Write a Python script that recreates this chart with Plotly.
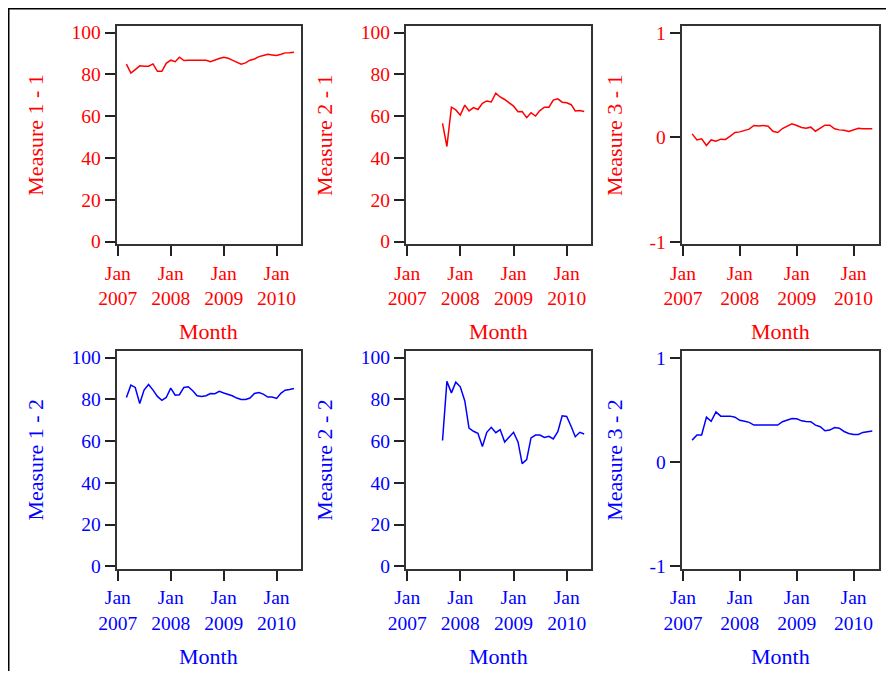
import pandas as pd
import plotly.graph_objects as go

# ---------------- data ----------------
months_full = pd.date_range("2007-03-01", "2010-05-01", freq="MS")   # Mar 2007 - May 2010
months_late = pd.date_range("2007-09-01", "2010-05-01", freq="MS")   # Sep 2007 - May 2010

measure_1_1 = [84.9, 80.6, 82.3, 84.1, 83.9, 83.9, 85.0, 81.5, 81.5, 85.3, 86.8, 86.1, 88.2,
               86.6, 86.8, 86.8, 86.8, 86.8, 86.8, 86.1, 87.0, 87.6, 88.2, 87.7, 86.8, 85.8,
               84.9, 85.5, 86.8, 87.4, 88.5, 89.0, 89.6, 89.3, 89.0, 89.6, 90.3, 90.4, 90.6]
measure_2_1 = [56.6, 45.5, 64.3, 63.0, 60.5, 65.3, 62.5, 64.1, 63.2, 66.2, 67.3, 66.8, 71.0,
               69.2, 68.0, 66.5, 64.8, 62.1, 62.2, 59.3, 61.7, 60.1, 62.7, 64.3, 64.3, 67.7,
               68.3, 66.7, 66.4, 65.5, 62.5, 62.7, 62.2]
measure_3_1 = [0.032, -0.026, -0.016, -0.08, -0.026, -0.038, -0.019, -0.022, 0.01, 0.045,
               0.051, 0.061, 0.077, 0.112, 0.108, 0.112, 0.105, 0.057, 0.045, 0.083, 0.105,
               0.128, 0.112, 0.093, 0.086, 0.096, 0.057, 0.086, 0.115, 0.115, 0.08, 0.07,
               0.067, 0.054, 0.067, 0.086, 0.08, 0.08, 0.08]
measure_1_2 = [80.9, 86.8, 85.7, 78.0, 84.4, 87.1, 84.4, 81.4, 79.5, 80.9, 85.4, 82.0, 82.2,
               85.7, 86.0, 84.1, 81.7, 81.4, 81.7, 82.8, 82.7, 83.8, 83.0, 82.5, 81.7, 80.6,
               79.9, 79.9, 80.6, 82.8, 83.3, 82.5, 81.1, 81.1, 80.4, 83.0, 84.4, 84.7, 85.2]
measure_2_2 = [60.3, 88.6, 83.1, 88.2, 86.0, 79.2, 66.2, 64.7, 63.7, 57.4, 64.2, 66.6, 64.0,
               65.5, 59.5, 61.8, 64.2, 59.5, 49.2, 51.1, 61.5, 62.9, 62.9, 61.7, 62.3, 61.0,
               64.5, 72.1, 71.8, 67.0, 62.1, 64.2, 63.4]
measure_3_2 = [0.21, 0.26, 0.26, 0.43, 0.39, 0.48, 0.44, 0.44, 0.44, 0.43, 0.40, 0.39, 0.38,
               0.354, 0.354, 0.36, 0.36, 0.354, 0.354, 0.386, 0.405, 0.418, 0.415, 0.395,
               0.389, 0.386, 0.354, 0.338, 0.30, 0.306, 0.33, 0.325, 0.293, 0.274, 0.265,
               0.265, 0.284, 0.29, 0.297]

x_tick_vals = ["2007-01-01", "2008-01-01", "2009-01-01", "2010-01-01"]
x_tick_text = ["Jan<br>2007", "Jan<br>2008", "Jan<br>2009", "Jan<br>2010"]
y_tick_vals_big = [0, 20, 40, 60, 80, 100]
y_tick_text_big = ["0", "20", "40", "60", "80", "100"]
y_tick_vals_small = [-1, 0, 1]
y_tick_text_small = ["-1", "0", "1"]
y_titles = [["Measure 1 - 1", "Measure 2 - 1", "Measure 3 - 1"],
            ["Measure 1 - 2", "Measure 2 - 2", "Measure 3 - 2"]]
x_title = "Month"

# ---------------- layout geometry (page pixels) ----------------
OFF = 8                      # default body margin of the html page
W, H = 894 - 2 * OFF, 679 - 2 * OFF
col_px = [(116.7, 300.5), (406.0, 590.7), (681.7, 879.3)]
row_px = [(25.7, 244.3), (350.7, 569.0)]
row_colors = ["#ff0000", "#0000ff"]
FONT = "Liberation Serif, Times New Roman, serif"


def fx(px):
    return (px - OFF) / W


def fy(py):
    return 1 - (py - OFF) / H


series = [
    [(months_full, measure_1_1), (months_late, measure_2_1), (months_full, measure_3_1)],
    [(months_full, measure_1_2), (months_late, measure_2_2), (months_full, measure_3_2)],
]

fig = go.Figure()
layout = {}
annotations = []
k = 0
for r in range(2):
    color = row_colors[r]
    for c in range(3):
        k += 1
        xs, ys = series[r][c]
        xa = "x" if k == 1 else f"x{k}"
        ya = "y" if k == 1 else f"y{k}"
        fig.add_trace(go.Scatter(x=xs, y=ys, mode="lines", xaxis=xa, yaxis=ya,
                                 line=dict(color=color, width=1.5), showlegend=False,
                                 hoverinfo="skip"))
        x0, x1 = col_px[c]
        y0, y1 = row_px[r]
        common = dict(showline=True, mirror=True, linecolor="#333333", linewidth=2,
                      ticks="outside", ticklen=10, tickwidth=2, tickcolor="#222222",
                      showgrid=False, zeroline=False, automargin=False,
                      tickfont=dict(family=FONT, size=19.5, color=color))
        layout["xaxis" if k == 1 else f"xaxis{k}"] = dict(
            domain=[fx(x0), fx(x1)], anchor=ya, type="date",
            range=["2006-12-24", "2010-06-15"],
            tickmode="array", tickvals=x_tick_vals, ticktext=x_tick_text, **common)
        if c < 2:
            yr, tv, tt = [-1.3, 103.3], y_tick_vals_big, y_tick_text_big
        else:
            yr, tv, tt = [-1.025, 1.067], y_tick_vals_small, y_tick_text_small
        layout["yaxis" if k == 1 else f"yaxis{k}"] = dict(
            domain=[fy(y1), fy(y0)], anchor=xa, range=yr,
            tickmode="array", tickvals=tv, ticktext=tt, **common)
        # y title
        annotations.append(dict(
            text=y_titles[r][c], textangle=-90, showarrow=False,
            xref="paper", yref="paper", x=fx(x0 - (81 if c < 2 else 66.7)),
            y=fy((y0 + y1) / 2), xanchor="center", yanchor="middle",
            font=dict(family=FONT, size=22, color=color)))
        # x title
        annotations.append(dict(
            text=x_title, showarrow=False, xref="paper", yref="paper",
            x=fx((x0 + x1) / 2), y=fy(y1 + 87.5), xanchor="center", yanchor="middle",
            font=dict(family=FONT, size=22, color=color)))

fig.update_layout(
    template="none",
    width=W, height=H, margin=dict(l=0, r=0, t=0, b=0, autoexpand=False),
    paper_bgcolor="white", plot_bgcolor="white",
    annotations=annotations,
    shapes=[dict(type="path", xref="paper", yref="paper",
                 path=f"M {fx(8.75)} 0 L {fx(8.75)} {fy(8.75)} L 1 {fy(8.75)}",
                 line=dict(color="black", width=1.5))],
    **layout,
)

fig.write_html("out.html")
